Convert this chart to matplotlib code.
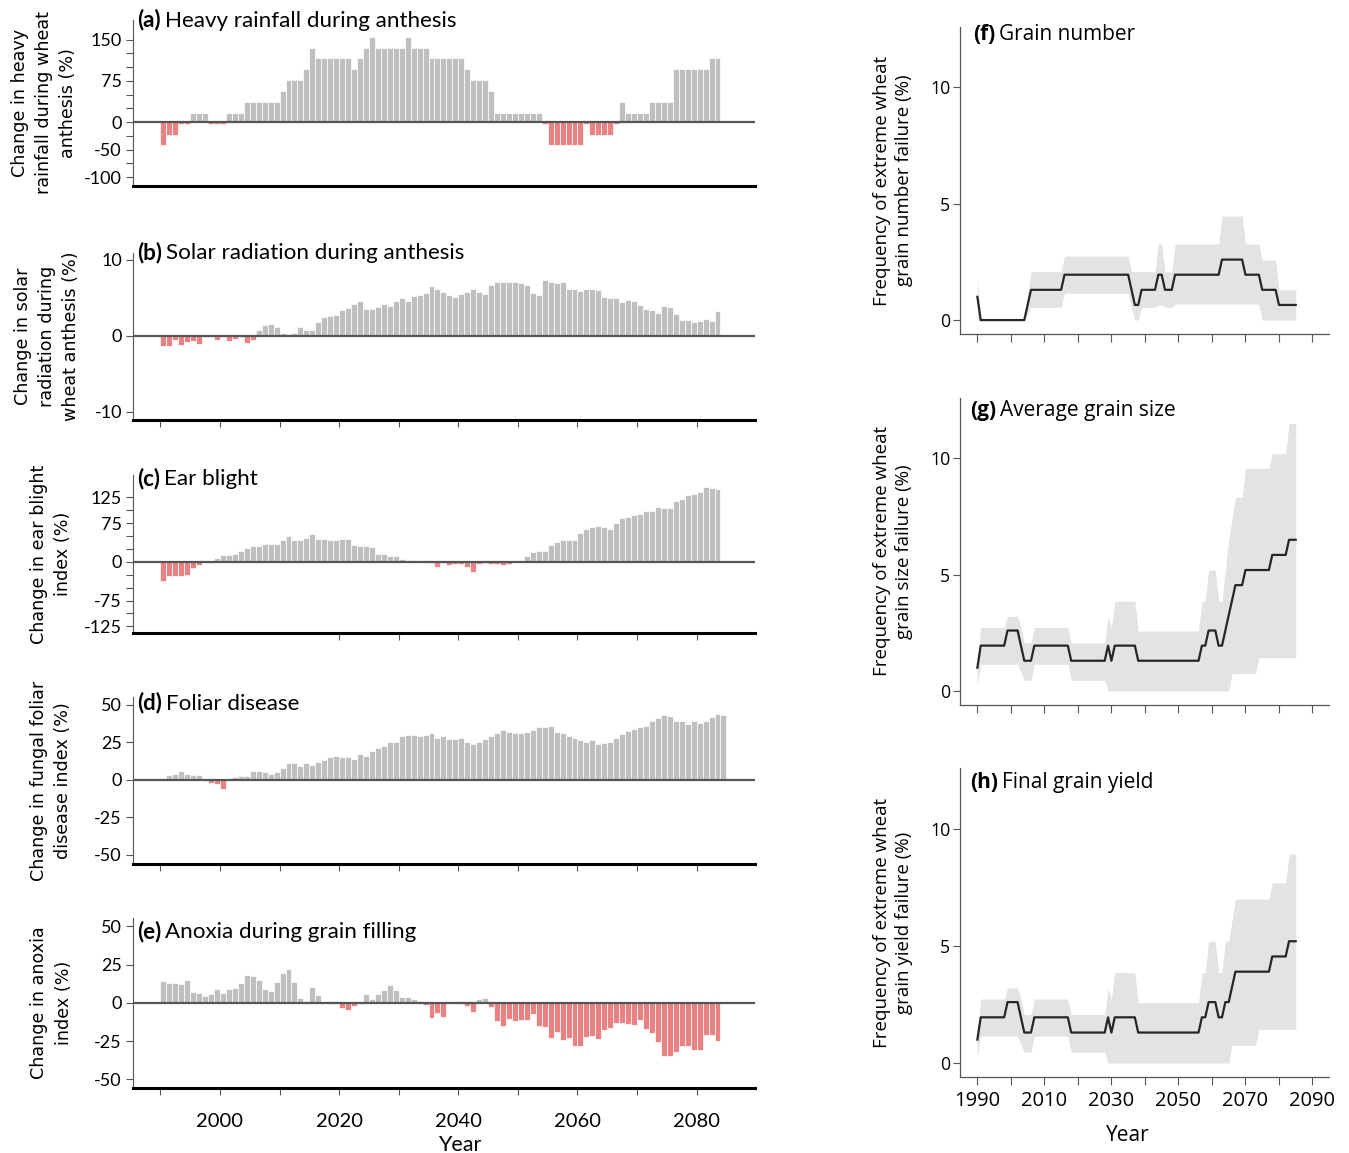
import numpy as np
import matplotlib
matplotlib.use('Agg')
import matplotlib.pyplot as plt
from matplotlib.offsetbox import TextArea, HPacker, AnchoredOffsetbox

plt.rcParams['axes.unicode_minus'] = False

# ---- left column: yearly change (%) of each climate driver ----
rain_start = 1990
rain = [-42, -23, -23, -3, -3, 16, 16, 16, -3, -3,
        -3, 16, 16, 16, 37, 37, 37, 37, 37, 37,
        57, 77, 77, 77, 96, 135, 116, 116, 116, 116,
        116, 116, 96, 116, 135, 155, 135, 135, 135, 135,
        135, 155, 135, 135, 135, 116, 116, 116, 116, 116,
        116, 96, 77, 77, 77, 57, 16, 16, 16, 16,
        16, 16, 16, 16, -3, -42, -42, -42, -42, -42,
        -42, -3, -23, -23, -23, -23, -3, 37, 16, 16,
        16, 16, 37, 37, 37, 37, 96, 96, 96, 96,
        96, 96, 116, 116]

solar_start = 1990
solar = [-1.3, -1.3, -0.6, -1.2, -0.8, -0.7, -1.1, -0.2, -0.2, -0.5,
         -0.1, -0.7, -0.4, -0.1, -0.9, -0.6,
         0.7, 1.4, 1.5, 1.2, 0.4, 0.2, 0.3, 1.1, 0.7, 0.7,
         1.8, 2.5, 2.6, 2.7, 3.4, 3.6, 4.2, 4.5, 3.5, 3.5,
         3.8, 4.2, 3.9, 4.6, 4.9, 4.5, 5.2, 5.4, 5.6, 6.5,
         6.1, 5.8, 5.4, 5.1, 5.5, 5.8, 6.2, 5.7, 5.5, 6.6,
         7.0, 7.1, 7.0, 7.1, 6.9, 6.6, 5.6, 5.4, 7.3,
         7.1, 6.9, 7.0, 6.1, 6.1, 5.9, 6.1, 6.2, 6.0, 5.1,
         4.9, 5.0, 4.4, 4.7, 4.5, 4.0, 3.5, 3.4, 3.0, 3.9,
         3.8, 2.8, 2.1, 2.1, 1.8, 2.0, 2.2, 1.9, 3.2]

blight_start = 1990
blight = [-37, -27, -27, -27, -25, -11, -7, 0, -3,
          7, 14, 14, 16, 22, 27, 31, 31, 35, 35,
          35, 42, 51, 42, 42, 47, 54, 44, 44, 42,
          42, 44, 44, 33, 31, 31, 28, 16, 16, 11,
          11, 6, 0, 3, 0, 0,
          -3, -9, -3, -6, -5, -5, -10, -19, -5, -2,
          -5, -5, -7, -5, 0, 0,
          12, 20, 22, 22, 33, 38, 43, 43, 43, 56,
          64, 68, 70, 68, 63, 75, 85, 88, 91, 93,
          98, 98, 106, 104, 105, 118, 122, 130, 132, 136,
          146, 143, 141]

foliar_start = 1991
foliar = [3, 4, 6, 4, 3, 3, -1, -2, -3, -6,
          0, 2, 2.5, 2.5, 6, 6, 5, 4, 5, 8,
          11, 11, 9, 11, 10, 12, 13, 15, 16, 15,
          15.5, 14, 17, 16, 19, 21, 22.5, 25, 25, 29,
          30, 30, 29, 30, 31, 28, 29, 27, 27.5, 28,
          25.5, 24, 25, 27.5, 29, 31.5, 33.5, 32, 31.5, 31.5,
          32, 33.5, 35.5, 35.5, 36, 32, 31, 29.5, 28, 26.5,
          25.5, 26.5, 24, 24.5, 25.5, 28, 30.5, 32.5, 34, 35,
          36, 39.5, 41.5, 43, 42.5, 39.5, 39.5, 37.5, 39, 38,
          39.5, 42, 44, 43]

anoxia_start = 1990
anoxia = [14, 13, 13, 12.5, 15, 7, 6.5, 4.5, 5.5, 9,
          6.5, 9, 10, 13, 18, 17.5, 15, 9, 7.5, 13.5,
          19.5, 22, 13.5, 3, 1.5, 10.5, 5, 0.5, 1, 1,
          -3.5, -4.5, -2, -1, 6, 2.5, 6, 8.5, 11.5, 8.5,
          3.5, 3.5, 2.5, 1.5, -1.5, -10, -6.5, -9, 0, 1.5,
          1.5, -2, -6, 2.5, 3, -3, -12, -15, -10.5, -12,
          -11, -11, -7, -15, -15.5, -23, -19, -24.5, -23, -28,
          -28, -22.5, -22, -23.5, -18, -16.5, -13.5, -13.5, -14, -14.5,
          -11, -17, -19.5, -25.5, -35, -34.5, -32, -28, -28.5, -31,
          -31, -21, -21, -25]

# ---- right column: failure frequency (%) with uncertainty band, 1990-2085 ----
freq_years = np.arange(1990, 2086)

num_mid = [1.0, 0, 0, 0, 0, 0, 0, 0, 0, 0,
           0, 0, 0, 0, 0, 0.65, 1.3, 1.3, 1.3, 1.3,
           1.3, 1.3, 1.3, 1.3, 1.3, 1.3, 1.95, 1.95, 1.95, 1.95,
           1.95, 1.95, 1.95, 1.95, 1.95, 1.95, 1.95, 1.95, 1.95, 1.95,
           1.95, 1.95, 1.95, 1.95, 1.95, 1.95, 1.3, 0.65, 0.65, 1.3,
           1.3, 1.3, 1.3, 1.3, 1.95, 1.95, 1.3, 1.3, 1.3, 1.95,
           1.95, 1.95, 1.95, 1.95, 1.95, 1.95, 1.95, 1.95, 1.95, 1.95,
           1.95, 1.95, 1.95, 2.6, 2.6, 2.6, 2.6, 2.6, 2.6, 2.6,
           1.95, 1.95, 1.95, 1.95, 1.95, 1.3, 1.3, 1.3, 1.3, 1.3,
           0.65, 0.65, 0.65, 0.65, 0.65, 0.65]
num_hi = [1.75, 0, 0, 0, 0, 0, 0, 0, 0, 0,
          0, 0, 0, 0, 0, 1.04, 2.08, 2.08, 2.08, 2.08,
          2.08, 2.08, 2.08, 2.08, 2.08, 2.08, 2.75, 2.75, 2.75, 2.75,
          2.75, 2.75, 2.75, 2.75, 2.75, 2.75, 2.75, 2.75, 2.75, 2.75,
          2.75, 2.75, 2.75, 2.75, 2.75, 2.75, 2.08, 2.08, 2.08, 2.08,
          2.08, 2.08, 2.08, 2.08, 3.27, 3.27, 2.08, 2.08, 2.08, 3.27,
          3.27, 3.27, 3.27, 3.27, 3.27, 3.27, 3.27, 3.27, 3.27, 3.27,
          3.27, 3.27, 3.27, 4.47, 4.47, 4.47, 4.47, 4.47, 4.47, 4.47,
          3.27, 3.27, 3.27, 3.27, 3.27, 2.58, 2.58, 2.58, 2.58, 2.58,
          1.3, 1.3, 1.3, 1.3, 1.3, 1.3]
num_lo = [0, 0, 0, 0, 0, 0, 0, 0, 0, 0,
          0, 0, 0, 0, 0, 0.27, 0.55, 0.55, 0.55, 0.55,
          0.55, 0.55, 0.55, 0.55, 0.55, 0.55, 1.15, 1.15, 1.15, 1.15,
          1.15, 1.15, 1.15, 1.15, 1.15, 1.15, 1.15, 1.15, 1.15, 1.15,
          1.15, 1.15, 1.15, 1.15, 1.15, 1.15, 0.5, 0, 0, 0.55,
          0.55, 0.55, 0.55, 0.55, 0.65, 0.65, 0.55, 0.55, 0.55, 0.69,
          0.69, 0.69, 0.69, 0.69, 0.69, 0.69, 0.69, 0.69, 0.69, 0.69,
          0.69, 0.69, 0.69, 0.69, 0.69, 0.69, 0.69, 0.69, 0.69, 0.69,
          0.69, 0.69, 0.69, 0.69, 0.69, 0, 0, 0, 0, 0,
          0, 0, 0, 0, 0, 0]

size_mid = [1.0, 1.95, 1.95, 1.95, 1.95, 1.95, 1.95, 1.95, 1.95, 2.6,
            2.6, 2.6, 2.6, 1.95, 1.3, 1.3, 1.3, 1.95, 1.95, 1.95,
            1.95, 1.95, 1.95, 1.95, 1.95, 1.95, 1.95, 1.95, 1.3, 1.3,
            1.3, 1.3, 1.3, 1.3, 1.3, 1.3, 1.3, 1.3, 1.3, 1.95,
            1.3, 1.95, 1.95, 1.95, 1.95, 1.95, 1.95, 1.95, 1.3, 1.3,
            1.3, 1.3, 1.3, 1.3, 1.3, 1.3, 1.3, 1.3, 1.3, 1.3,
            1.3, 1.3, 1.3, 1.3, 1.3, 1.3, 1.3, 1.95, 1.95, 2.6,
            2.6, 2.6, 1.95, 1.95, 2.6, 3.25, 3.9, 4.55, 4.55, 4.55,
            5.2, 5.2, 5.2, 5.2, 5.2, 5.2, 5.2, 5.2, 5.85, 5.85,
            5.85, 5.85, 5.85, 6.5, 6.5, 6.5]
size_hi = [1.3, 2.73, 2.73, 2.73, 2.73, 2.73, 2.73, 2.73, 2.73, 3.21,
           3.21, 3.21, 3.21, 2.7, 2.07, 2.07, 2.07, 2.73, 2.73, 2.73,
           2.73, 2.73, 2.73, 2.73, 2.73, 2.73, 2.73, 2.73, 2.07, 2.07,
           2.07, 2.07, 2.07, 2.07, 2.07, 2.07, 2.07, 2.07, 2.07, 3.2,
           2.7, 3.86, 3.86, 3.86, 3.86, 3.86, 3.86, 3.86, 2.58, 2.58,
           2.58, 2.58, 2.58, 2.58, 2.58, 2.58, 2.58, 2.58, 2.58, 2.58,
           2.58, 2.58, 2.58, 2.58, 2.58, 2.58, 2.58, 3.86, 3.86, 5.2,
           5.2, 5.2, 3.86, 3.86, 5.2, 6.5, 7.4, 8.32, 8.32, 8.32,
           9.57, 9.57, 9.57, 9.57, 9.57, 9.57, 9.57, 9.57, 10.2, 10.2,
           10.2, 10.2, 10.2, 11.5, 11.5, 11.5]
size_lo = [0.25, 1.15, 1.15, 1.15, 1.15, 1.15, 1.15, 1.15, 1.15, 1.15,
           1.15, 1.15, 1.15, 0.8, 0.46, 0.46, 0.46, 1.15, 1.15, 1.15,
           1.15, 1.15, 1.15, 1.15, 1.15, 1.15, 1.15, 1.15, 0.46, 0.46,
           0.46, 0.46, 0.46, 0.46, 0.46, 0.46, 0.46, 0.46, 0.46, 0,
           0, 0, 0, 0, 0, 0, 0, 0, 0, 0,
           0, 0, 0, 0, 0, 0, 0, 0, 0, 0,
           0, 0, 0, 0, 0, 0, 0, 0, 0, 0,
           0, 0, 0, 0, 0, 0, 0.75, 0.75, 0.75, 0.75,
           0.75, 0.75, 0.75, 0.75, 1.43, 1.43, 1.43, 1.43, 1.43, 1.43,
           1.43, 1.43, 1.43, 1.43, 1.43, 1.43]

yield_mid = [1.0, 1.95, 1.95, 1.95, 1.95, 1.95, 1.95, 1.95, 1.95, 2.6,
             2.6, 2.6, 2.6, 1.95, 1.3, 1.3, 1.3, 1.95, 1.95, 1.95,
             1.95, 1.95, 1.95, 1.95, 1.95, 1.95, 1.95, 1.95, 1.3, 1.3,
             1.3, 1.3, 1.3, 1.3, 1.3, 1.3, 1.3, 1.3, 1.3, 1.95,
             1.3, 1.95, 1.95, 1.95, 1.95, 1.95, 1.95, 1.95, 1.3, 1.3,
             1.3, 1.3, 1.3, 1.3, 1.3, 1.3, 1.3, 1.3, 1.3, 1.3,
             1.3, 1.3, 1.3, 1.3, 1.3, 1.3, 1.3, 1.95, 1.95, 2.6,
             2.6, 2.6, 1.95, 1.95, 2.6, 2.6, 3.25, 3.9, 3.9, 3.9,
             3.9, 3.9, 3.9, 3.9, 3.9, 3.9, 3.9, 3.9, 4.55, 4.55,
             4.55, 4.55, 4.55, 5.2, 5.2, 5.2]
yield_hi = [1.3, 2.73, 2.73, 2.73, 2.73, 2.73, 2.73, 2.73, 2.73, 3.21,
            3.21, 3.21, 3.21, 2.7, 2.07, 2.07, 2.07, 2.73, 2.73, 2.73,
            2.73, 2.73, 2.73, 2.73, 2.73, 2.73, 2.73, 2.73, 2.07, 2.07,
            2.07, 2.07, 2.07, 2.07, 2.07, 2.07, 2.07, 2.07, 2.07, 3.2,
            2.7, 3.86, 3.86, 3.86, 3.86, 3.86, 3.86, 3.86, 2.58, 2.58,
            2.58, 2.58, 2.58, 2.58, 2.58, 2.58, 2.58, 2.58, 2.58, 2.58,
            2.58, 2.58, 2.58, 2.58, 2.58, 2.58, 2.58, 3.86, 3.86, 5.2,
            5.2, 5.2, 3.86, 3.86, 5.2, 5.2, 6.1, 7.0, 7.0, 7.0,
            7.0, 7.0, 7.0, 7.0, 7.0, 7.0, 7.0, 7.0, 7.7, 7.7,
            7.7, 7.7, 7.7, 8.93, 8.93, 8.93]
yield_lo = size_lo

GRAY = '#BFBFBF'
RED = '#E98282'
BAND = '#E3E3E3'
LINE = '#262626'
AXC = '#555555'

LEFT_FONT = 'Lato'
RIGHT_FONT = 'Open Sans'

fig = plt.figure(figsize=(13.49, 11.53), dpi=100)


def panel_title(ax, tag, text, x, y, family, size):
    t1 = TextArea(tag, textprops=dict(fontsize=size, fontweight='bold', family=family))
    t2 = TextArea(text, textprops=dict(fontsize=size, family=family))
    box = HPacker(children=[t1, t2], align='baseline', pad=0, sep=3)
    anchored = AnchoredOffsetbox(loc='center left', child=box, pad=0, borderpad=0,
                                 frameon=False, bbox_to_anchor=(x, y),
                                 bbox_transform=ax.transAxes)
    ax.add_artist(anchored)


def bar_panel(rect, start, vals, tag, title, title_y, ylabel, ylabel_x, ylim,
              yticks, shown, xticks, xlabels=False):
    ax = fig.add_axes(rect)
    v = np.array(vals, dtype=float)
    x = start + np.arange(len(v))
    colors = [RED if val < 0 else GRAY for val in v]
    ax.bar(x, v, width=1, align='edge', color=colors,
           edgecolor=(1, 1, 1, 0.75), linewidth=0.7, zorder=2)
    ax.axhline(0, color=AXC, lw=1.6, zorder=3)
    ax.set_xlim(1985.4, 2089.8)
    ax.set_ylim(*ylim)
    for s in ('top', 'right'):
        ax.spines[s].set_visible(False)
    ax.spines['left'].set_color(AXC)
    ax.spines['left'].set_linewidth(0.8)
    ax.spines['bottom'].set_color('black')
    ax.spines['bottom'].set_linewidth(2.2)
    ax.set_yticks(yticks)
    ax.set_yticklabels([str(t) if t in shown else '' for t in yticks],
                       family=LEFT_FONT, fontsize=13)
    ax.set_xticks(xticks)
    if xlabels:
        ax.set_xticklabels([str(t) if t % 20 == 0 else '' for t in xticks],
                           family=LEFT_FONT, fontsize=14.5)
    else:
        ax.set_xticklabels([])
    ax.tick_params(axis='y', length=5, width=0.8, color=AXC, pad=3)
    ax.tick_params(axis='x', length=5, width=0.8, color=AXC, pad=13)
    panel_title(ax, tag, title, 0.006, title_y, LEFT_FONT, 16.1)
    ax.text(ylabel_x, 0.5, ylabel, transform=ax.transAxes, rotation=90,
            ha='center', va='center', multialignment='center',
            family='DejaVu Sans', fontsize=12.6, linespacing=1.45)
    return ax


decades = list(range(1990, 2081, 10))
L, W = 0.0986, 0.4611

bar_panel([L, 0.8387, W, 0.1440], rain_start, rain, '(a)', 'Heavy rainfall during anthesis',
          1.0, 'Change in heavy\nrainfall during wheat\nanthesis (%)', -0.143,
          (-116, 186), list(range(-100, 151, 25)), [150, 75, 0, -50, -100], [])
bar_panel([L, 0.6357, W, 0.1448], solar_start, solar, '(b)', 'Solar radiation during anthesis',
          1.006, 'Change in solar\nradiation during\nwheat anthesis (%)', -0.138,
          (-11.06, 10.85), [-10, 0, 10], [-10, 0, 10], decades)
bar_panel([L, 0.4510, W, 0.1370], blight_start, blight, '(c)', 'Ear blight',
          0.981, 'Change in ear blight\nindex (%)', -0.132,
          (-138, 168.5), list(range(-125, 126, 25)), [125, 75, 0, -75, -125],
          list(range(2020, 2081, 10)))
bar_panel([L, 0.2507, W, 0.1448], foliar_start, foliar, '(d)', 'Foliar disease',
          0.964, 'Change in fungal foliar\ndisease index (%)', -0.132,
          (-56, 55.3), [-50, -25, 0, 25, 50], [-50, -25, 0, 25, 50], decades)
ax_e = bar_panel([L, 0.0564, W, 0.1474], anoxia_start, anoxia, '(e)', 'Anoxia during grain filling',
                 0.92, 'Change in anoxia\nindex (%)', -0.131,
                 (-55.7, 55.5), [-50, -25, 0, 25, 50], [-50, -25, 0, 25, 50], decades,
                 xlabels=True)
ax_e.text(0.526, -0.335, 'Year', transform=ax_e.transAxes, ha='center', va='center',
          family=LEFT_FONT, fontsize=15.5)


def freq_panel(rect, mid, lo, hi, tag, title, title_x, title_y, ylabel, xlabels=False):
    ax = fig.add_axes(rect)
    ax.fill_between(freq_years, lo, hi, color=BAND, lw=0, zorder=1)
    ax.plot(freq_years, mid, color=LINE, lw=1.6, zorder=2)
    ax.set_xlim(1984.8, 2094.9)
    ax.set_ylim(-0.6, 12.6)
    for s in ('top', 'right'):
        ax.spines[s].set_visible(False)
    for s in ('left', 'bottom'):
        ax.spines[s].set_color(AXC)
        ax.spines[s].set_linewidth(0.9)
    ax.set_yticks([0, 5, 10])
    ax.set_yticklabels(['0', '5', '10'], family=RIGHT_FONT, fontsize=12.8)
    ticks = list(range(1990, 2091, 10))
    ax.set_xticks(ticks)
    if xlabels:
        ax.set_xticklabels([str(t) if (t - 1990) % 20 == 0 else '' for t in ticks],
                           family=RIGHT_FONT, fontsize=14.5)
    else:
        ax.set_xticklabels([])
    ax.tick_params(axis='y', length=5, width=0.8, color=AXC, pad=2)
    ax.tick_params(axis='x', length=6, width=0.8, color=AXC, pad=4)
    panel_title(ax, tag, title, title_x, title_y, RIGHT_FONT, 15)
    ax.text(-0.1816, 0.5, ylabel, transform=ax.transAxes, rotation=90,
            ha='center', va='center', multialignment='center',
            family=RIGHT_FONT, fontsize=13.5, linespacing=1.25)
    return ax


R, RW = 0.7116, 0.2735
freq_panel([R, 0.7103, RW, 0.2663], num_mid, num_lo, num_hi, '(f)', 'Grain number',
           0.035, 0.974, 'Frequency of extreme wheat\ngrain number failure (%)')
freq_panel([R, 0.3886, RW, 0.2663], size_mid, size_lo, size_hi, '(g)', 'Average grain size',
           0.027, 0.959, 'Frequency of extreme wheat\ngrain size failure (%)')
ax_h = freq_panel([R, 0.0659, RW, 0.2680], yield_mid, yield_lo, yield_hi, '(h)', 'Final grain yield',
                  0.027, 0.954, 'Frequency of extreme wheat\ngrain yield failure (%)', xlabels=True)
ax_h.text(0.455, -0.188, 'Year', transform=ax_h.transAxes, ha='center', va='center',
          family=RIGHT_FONT, fontsize=15)

fig.savefig('out.png', dpi=100)
